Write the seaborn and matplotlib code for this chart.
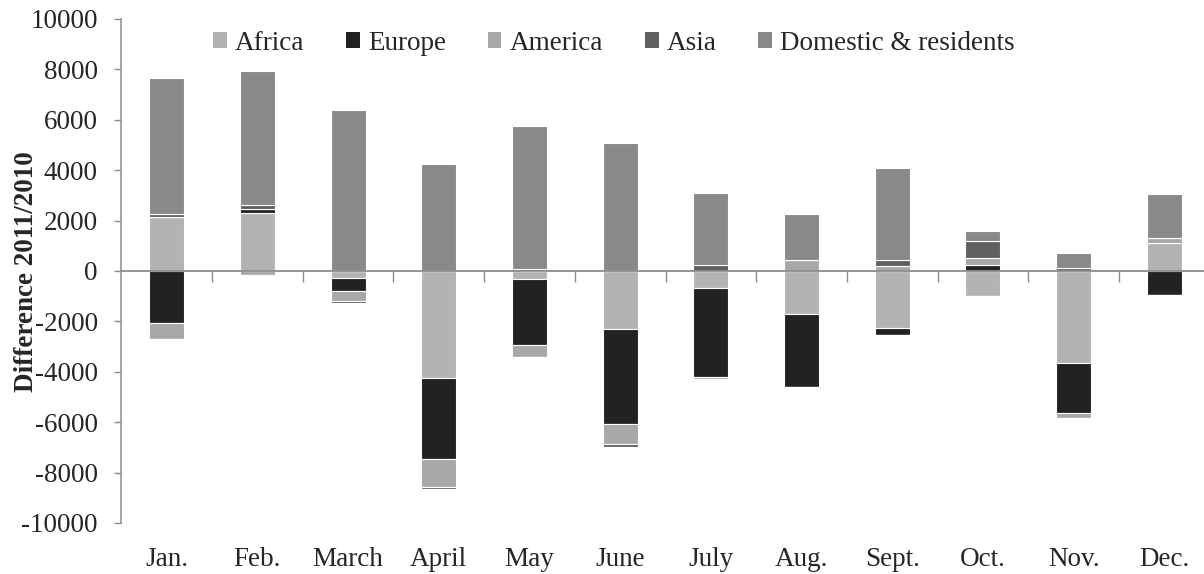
import numpy as np
import matplotlib
matplotlib.use("Agg")
import matplotlib.pyplot as plt
from matplotlib.patches import Patch
import seaborn as sns

# Monthly change in arrivals, 2011 vs 2010, by origin
months = ["Jan.", "Feb.", "March", "April", "May", "June",
          "July", "Aug.", "Sept.", "Oct.", "Nov.", "Dec."]
africa = [2160, 2290, -265, -4240, -330, -2310, -660, -1690, -2250, -980, -3640, 1130]
europe = [-2080, 170, -540, -3230, -2590, -3750, -3550, -2910, -300, 240, -1980, -970]
america = [-600, -140, -385, -1110, -490, -810, -95, 420, 210, 260, -220, 170]
asia = [120, 170, -95, -90, 90, -110, 220, 0, 220, 690, 110, 0]
domestic = [5360, 5300, 6380, 4230, 5656, 5095, 2890, 1860, 3645, 380, 590, 1770]

series_names = ["Africa", "Europe", "America", "Asia", "Domestic & residents"]
series_values = [africa, europe, america, asia, domestic]
series_colors = ["#b3b3b3", "#222222", "#a8a8a8", "#606060", "#898989"]

sns.set_style("white")
plt.rcParams["font.family"] = ["Liberation Serif", "DejaVu Serif"]
plt.rcParams["font.size"] = 19.5
plt.rcParams["axes.unicode_minus"] = False

W, H = 1204, 574
fig = plt.figure(figsize=(W / 100, H / 100), dpi=100)
ax_left, ax_right, ax_top, ax_bot = 121.3, 1209.7, 19, 523
ax = fig.add_axes([ax_left / W, 1 - ax_bot / H,
                   (ax_right - ax_left) / W, (ax_bot - ax_top) / H])

# Excel-style diverging stack: positives pile upward, negatives downward
pos_base = np.zeros(len(months))
neg_base = np.zeros(len(months))
for name, vals, col in zip(series_names, series_values, series_colors):
    v = np.asarray(vals, dtype=float)
    pos = np.clip(v, 0, None)
    neg = np.clip(v, None, 0)
    for part, base in ((pos, pos_base), (neg, neg_base)):
        sns.barplot(x=months, y=part, bottom=base.copy(), color=col,
                    width=0.385, edgecolor="white", linewidth=0.8,
                    errorbar=None, saturation=1, ax=ax, zorder=2)
    pos_base += pos
    neg_base += neg

axis_grey = "#8c8c8c"
ax.set_ylim(-10000, 10000)
ax.set_xlim(-0.5, len(months) - 0.5)
ax.set_yticks(np.arange(-10000, 10001, 2000))
ax.tick_params(axis="y", direction="out", length=5, width=1, color=axis_grey,
               pad=12, labelsize=19.5, left=True)
ax.tick_params(axis="x", length=0, pad=17, labelsize=19.5)
for s in ("top", "right", "bottom"):
    ax.spines[s].set_visible(False)
ax.spines["left"].set_color(axis_grey)
ax.spines["left"].set_linewidth(1.1)

# Horizontal category axis crossing at zero, with boundary ticks pointing down
zero_ax = ax.secondary_xaxis(0.5)
zero_ax.set_alignment("bottom")
zero_ax.set_xticks(np.arange(0.5, len(months) - 0.5, 1.0))
zero_ax.tick_params(axis="x", direction="out", length=8, width=1,
                    color=axis_grey, labelbottom=False, labeltop=False)
for s in zero_ax.spines.values():
    s.set_color(axis_grey)
    s.set_linewidth(1.3)
zero_ax.set_zorder(5)

ax.set_xlabel("")
ax.set_ylabel("Difference 2011/2010", fontweight="bold", fontsize=19.5)
ax.yaxis.set_label_coords(-0.0755, 0.498)

handles = [Patch(facecolor=c, edgecolor="none", label=n)
           for n, c in zip(series_names, series_colors)]
fig.legend(handles=handles, loc="center", bbox_to_anchor=(0.51, 1 - 43 / H),
           ncol=5, frameon=False, fontsize=19.5, handlelength=0.5,
           handleheight=0.5, handletextpad=0.3, columnspacing=1.55,
           borderaxespad=0)

fig.savefig("out.png", dpi=100, facecolor="white")
